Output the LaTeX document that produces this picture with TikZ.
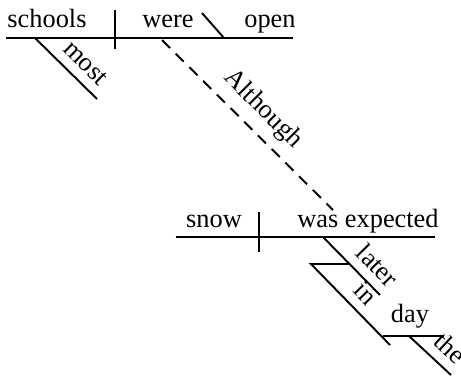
\documentclass[tikz,border=0pt]{standalone}
\usepackage{fontspec}
\setmainfont{Liberation Serif}

\begin{document}
\begin{tikzpicture}[
  x=0.02cm, y=-0.02cm,
  rule/.style={line width=1.1pt},
  link/.style={rule,dash pattern=on 6.5pt off 4.5pt},
  word/.style={anchor=base,inner sep=0pt,font=\fontsize{15}{18}\selectfont},
  slant/.style={sloped,above=1.8pt,font=\fontsize{15}{18}\selectfont}
]
\useasboundingbox (0,0) rectangle (461,376);
% main clause
\coordinate (mainL) at (6,38);
\coordinate (mainR) at (293,38);
\coordinate (mainT) at (115,10);
\coordinate (mainB) at (115,49);
\coordinate (openT) at (202,13);
\coordinate (openB) at (224,38);
\coordinate (mostT) at (35,38);
\coordinate (mostB) at (97,99);
\draw[rule] (mainL) -- (mainR);
\draw[rule] (mainT) -- (mainB);
\draw[rule] (openT) -- (openB);
\draw[rule] (mostT) -- (mostB) node[slant,pos=0.62] (most) {most};
\node[word] (schools) at (47,27) {schools};
\node[word] (were) at (168,27) {were};
\node[word] (open) at (270,27) {open};
% subordinate clause
\coordinate (subL) at (176,237);
\coordinate (subR) at (435,237);
\coordinate (subT) at (259,212);
\coordinate (subB) at (259,252);
\node[word] (snow) at (214,227) {snow};
\node[word] (expected) at (368,227) {was expected};
\draw[rule] (subL) -- (subR);
\draw[rule] (subT) -- (subB);
% conjunction
\coordinate (wereD) at (162,40);
\coordinate (expU) at (333,210);
\draw[link] (wereD) -- (expU) node[slant,above,midway] (although) {Although};
% adverb and phrase
\coordinate (laterT) at (323,237);
\coordinate (laterB) at (380,295);
\coordinate (inJ) at (350,264);
\coordinate (inT) at (311,264);
\coordinate (inB) at (390,345);
\coordinate (dayL) at (383,336);
\coordinate (dayR) at (444,336);
\coordinate (theT) at (409,336);
\coordinate (theB) at (451,375);
\draw[rule] (laterT) -- (laterB) node[slant,pos=0.72] (later) {later};
\draw[rule] (inJ) -- (inT) -- (inB) node[slant,pos=0.52] (in) {in};
\draw[rule] (dayL) -- (dayR);
\node[word] (day) at (410,322) {day};
\draw[rule] (theT) -- (theB) node[slant,pos=0.67] (the) {the};
\end{tikzpicture}
\end{document}
